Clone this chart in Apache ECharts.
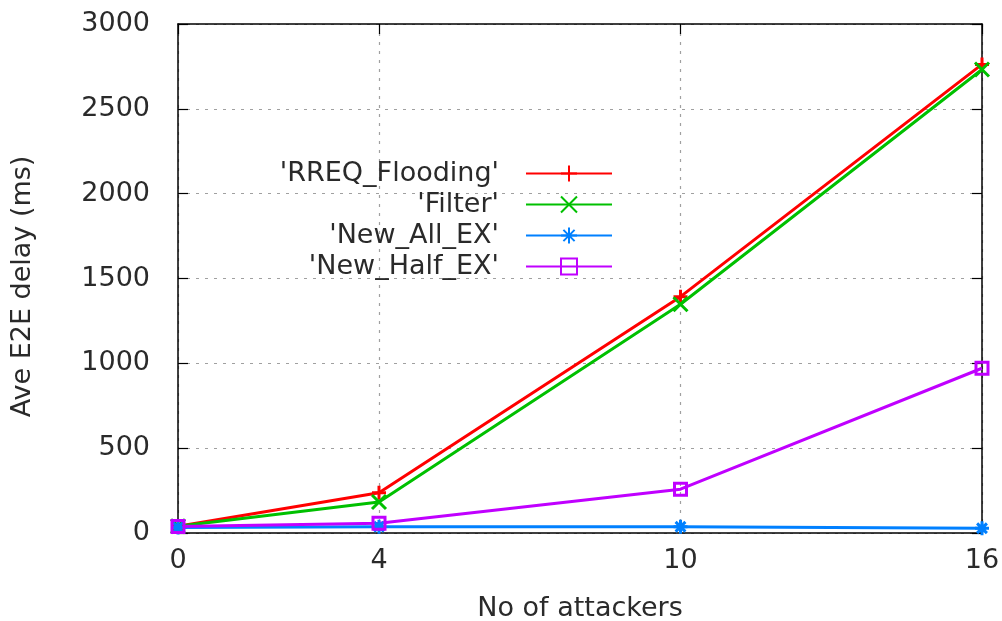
<!DOCTYPE html>
<html>
<head>
<meta charset="utf-8">
<script src="https://cdn.jsdelivr.net/npm/echarts@6/dist/echarts.min.js"></script>
<style>
html,body{margin:0;padding:0;background:#fff;}
#chart{width:1002px;height:621px;}
</style>
</head>
<body>
<div id="chart"></div>
<script>
const xValues = [0, 4, 10, 16];
const xTickLabels = [0, 4, 10, 16];
const seriesNames = ["'RREQ_Flooding'", "'Filter'", "'New_All_EX'", "'New_Half_EX'"];
const rreqFlooding = [40, 237, 1393, 2762];
const filterVals = [40, 183, 1348, 2732];
const newAllEx = [32, 37, 37, 28];
const newHalfEx = [38, 57, 258, 971];
const yTicks = [0, 500, 1000, 1500, 2000, 2500, 3000];

const FONT = 'DejaVu Sans';
const TXT = '#2a2a2a';
const colors = ['#ff0000', '#00c000', '#0080ff', '#c000ff'];
const symbols = [
  'path://M5,0L5,10M0,5L10,5',
  'path://M0,0L10,10M10,0L0,10',
  'path://M5,0L5,10M0,5L10,5M1.5,1.5L8.5,8.5M8.5,1.5L1.5,8.5',
  'rect'
];
const allData = [rreqFlooding, filterVals, newAllEx, newHalfEx];

function pairs(vals){ return xValues.map((x,i)=>[x, vals[i]]); }

const chart = echarts.init(document.getElementById('chart'), null, {renderer:'canvas'});
const tickCommon = {show:true, inside:true, length:10, lineStyle:{color:'#000', width:1.2}};
const axisLineStyle = {show:true, onZero:false, lineStyle:{color:'#000', width:1.5}};
const option = {
  backgroundColor:'#fff',
  animation:false,
  grid:{left:178, right:20, top:24, bottom:88, show:false, containLabel:false, outerBoundsMode:'none'},
  legend:{
    orient:'vertical', align:'right', right:389, top:160, padding:0,
    itemWidth:86, itemHeight:20, itemGap:4,
    textStyle:{fontFamily:FONT, fontSize:27, color:TXT, padding:[0,22,0,0]},
    data: seriesNames
  },
  xAxis:[{
    type:'value', min:0, max:16, position:'bottom',
    name:'No of attackers', nameLocation:'middle', nameGap:62,
    nameTextStyle:{fontFamily:FONT, fontSize:27, color:TXT},
    axisLine:axisLineStyle,
    axisTick:Object.assign({customValues:xTickLabels}, tickCommon),
    axisLabel:{customValues:xTickLabels, fontFamily:FONT, fontSize:27, color:TXT, margin:14},
    splitLine:{show:true, lineStyle:{color:'#a0a0a0', width:1.2, type:[3,6]}}
  },{
    type:'value', min:0, max:16, position:'top',
    axisLine:axisLineStyle,
    axisTick:Object.assign({customValues:xTickLabels}, tickCommon),
    axisLabel:{show:false}, splitLine:{show:false}
  }],
  yAxis:[{
    type:'value', min:0, max:3000, interval:500, position:'left',
    name:'Ave E2E delay (ms)', nameLocation:'middle', nameGap:142,
    nameTextStyle:{fontFamily:FONT, fontSize:27, color:TXT, padding:[0,16,0,0]},
    axisLine:axisLineStyle,
    axisTick:tickCommon,
    axisLabel:{fontFamily:FONT, fontSize:27, color:TXT, margin:28, formatter:(v)=>String(v)},
    splitLine:{show:true, lineStyle:{color:'#a0a0a0', width:1.2, type:[3,6]}}
  },{
    type:'value', min:0, max:3000, interval:500, position:'right',
    axisLine:axisLineStyle, axisTick:tickCommon,
    axisLabel:{show:false}, splitLine:{show:false}
  }],
  series: seriesNames.map((name,i)=>({
    name:name, type:'line', xAxisIndex:0, yAxisIndex:0,
    data:pairs(allData[i]),
    symbol:symbols[i], symbolSize: i===3 ? 12 : 14, showAllSymbol:true,
    lineStyle:{color:colors[i], width:3},
    itemStyle: i===3 ? {color:'rgba(0,0,0,0)', borderColor:colors[i], borderWidth:3}
                     : {color:colors[i], borderColor:colors[i], borderWidth:3},
    emphasis:{disabled:true}
  }))
};
chart.setOption(option);
</script>
</body>
</html>
